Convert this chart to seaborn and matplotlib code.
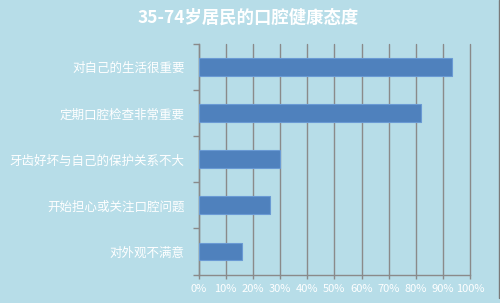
import matplotlib
matplotlib.use("Agg")
import matplotlib.pyplot as plt
import seaborn as sns
import pandas as pd
from matplotlib.lines import Line2D

categories = ["对自己的生活很重要", "定期口腔检查非常重要", "牙齿好坏与自己的保护关系不大",
              "开始担心或关注口腔问题", "对外观不满意"]
values = [93.3, 81.7, 30.1, 26.3, 16.1]
xticks = [0, 10, 20, 30, 40, 50, 60, 70, 80, 90, 100]
xticklabels = [f"{t}%" for t in xticks]
title = "35-74岁居民的口腔健康态度"

bg = "#b7dde8"
sns.set_theme(style="white")
plt.rcParams['font.family'] = ['Noto Sans CJK SC', 'DejaVu Sans']

df = pd.DataFrame({"cat": categories, "val": values})

fig = plt.figure(figsize=(5.0, 3.03), dpi=100, facecolor=bg)
ax = fig.add_axes([198.5/500, 1 - 274.5/303, (470.3-198.5)/500, (274.5-44.3)/303])
ax.set_facecolor(bg)

sns.barplot(data=df, x="val", y="cat", orient="h", color="#4f81bd", saturation=1,
            width=0.39, edgecolor="#6a9ad4", linewidth=0.8, ax=ax, zorder=3)

ax.set_xlim(0, 100)
ax.set_ylim(4.5, -0.5)
ax.set_xticks(xticks)
ax.set_xticklabels(xticklabels, color="white", fontsize=8)
ax.xaxis.grid(True, color="#8a8a8a", linewidth=1.0, zorder=0)
for gl in ax.get_xgridlines():
    gl.set_clip_on(False)
ax.set_axisbelow(True)

ax.set_yticks(range(len(categories)))
ax.set_yticklabels(categories, color="white", fontsize=9)
ax.set_yticks([i - 0.5 for i in range(len(categories) + 1)], minor=True)
ax.tick_params(axis="y", which="major", length=0, pad=10)
ax.tick_params(axis="y", which="minor", length=4, color="#8a8a8a", width=1, left=True)
ax.tick_params(axis="x", which="major", length=3, color="#8a8a8a", width=1, bottom=True, pad=4)
ax.set_xlabel("")
ax.set_ylabel("")

for s in ["top", "right"]:
    ax.spines[s].set_visible(False)
for s in ["left", "bottom"]:
    ax.spines[s].set_color("#8a8a8a")
    ax.spines[s].set_linewidth(1.0)

fig.text(0.497, 1 - 18/303, title, ha="center", va="center", color="white",
         fontsize=12.5, fontweight="bold")

fig.add_artist(Line2D([498.5/500, 498.5/500], [1 - 298/303, 1.0], transform=fig.transFigure,
                      color="#7a7a7a", linewidth=1))

fig.savefig("out.png", dpi=100, facecolor=bg)
